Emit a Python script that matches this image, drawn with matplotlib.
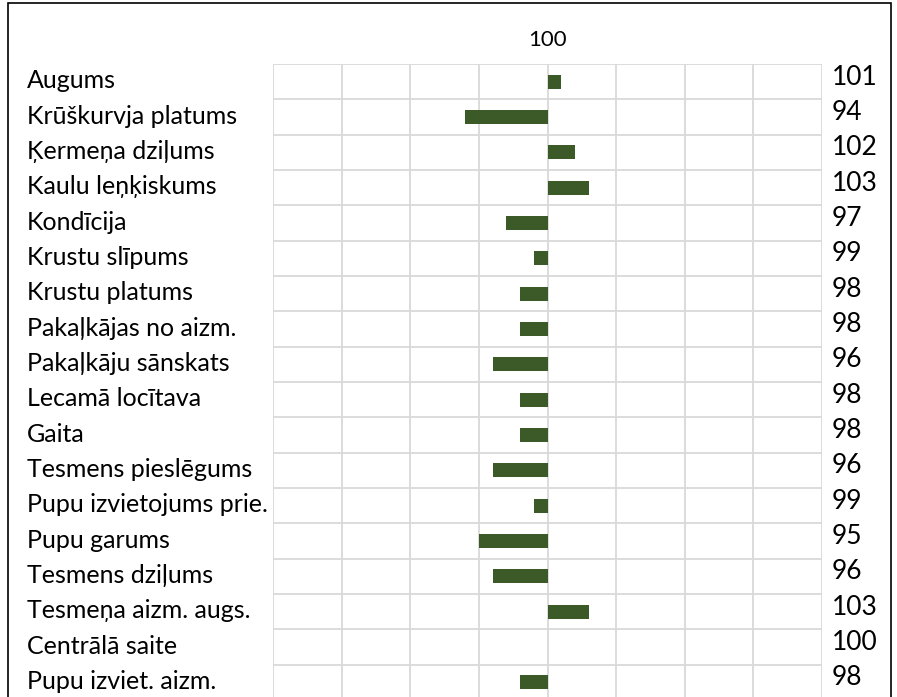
import numpy as np
import matplotlib.pyplot as plt
import matplotlib.transforms as mtransforms
from matplotlib.patches import Rectangle

# Dati
labels = ['Augums', 'Krūškurvja platums', 'Ķermeņa dziļums', 'Kaulu leņķiskums',
          'Kondīcija', 'Krustu slīpums', 'Krustu platums', 'Pakaļkājas no aizm.',
          'Pakaļkāju sānskats', 'Lecamā locītava', 'Gaita', 'Tesmens pieslēgums',
          'Pupu izvietojums prie.', 'Pupu garums', 'Tesmens dziļums',
          'Tesmeņa aizm. augs.', 'Centrālā saite', 'Pupu izviet. aizm.']
values = [101, 94, 102, 103, 97, 99, 98, 98, 96, 98, 98, 96, 99, 95, 96, 103, 100, 98]
base = 100

plt.rcParams['font.family'] = ['Lato', 'DejaVu Sans']
W, H = 897, 697
fig = plt.figure(figsize=(W / 100, H / 100), dpi=100)

ax = fig.add_axes([273 / W, 1 - 700 / H, (822 - 273) / W, 636 / H])
y = np.arange(len(labels))
v = np.array(values)
ax.barh(y, v - base, left=base, height=0.4, color='#3B5A27',
        linewidth=0, zorder=3)

ax.set_xlim(80, 120)
ax.set_ylim(len(labels) - 0.5, -0.5)
ax.set_xticks(np.arange(80, 121, 5))
ax.set_xticklabels([])
ax.tick_params(axis='x', length=0)
ax.set_yticks(y, minor=False)
ax.set_yticklabels(labels, fontsize=18, ha='left')
ax.tick_params(axis='y', which='major', length=0, pad=177)
ax.set_yticks(np.arange(-0.5, len(labels), 1), minor=True)
ax.tick_params(axis='y', which='minor', length=0)
ax.grid(True, axis='x', which='major', color='#D9D9D9', linewidth=1.3, zorder=0)
ax.grid(True, axis='y', which='minor', color='#D9D9D9', linewidth=1.3, zorder=0)
for s in ax.spines.values():
    s.set_visible(False)
up_l = mtransforms.ScaledTranslation(0, 3 / 100, fig.dpi_scale_trans)
for t in ax.get_yticklabels():
    t.set_transform(t.get_transform() + up_l)

# labas puses vērtības
ax2 = ax.twinx()
ax2.set_ylim(ax.get_ylim())
ax2.set_yticks(y)
ax2.set_yticklabels([str(x) for x in values], fontsize=19)
ax2.tick_params(axis='y', length=0, pad=7)
for s in ax2.spines.values():
    s.set_visible(False)
up_r = mtransforms.ScaledTranslation(0, 7 / 100, fig.dpi_scale_trans)
for t in ax2.get_yticklabels():
    t.set_transform(t.get_transform() + up_r)

# augšējā ass ar 100
ax3 = ax.twiny()
ax3.set_xlim(ax.get_xlim())
ax3.set_xticks([base])
ax3.set_xticklabels([str(base)], fontsize=16)
ax3.tick_params(axis='x', length=0, pad=10)
for s in ax3.spines.values():
    s.set_visible(False)

# rāmis
fig.patches.append(Rectangle((8 / W, -0.1), (891 - 8) / W, 1.1 - 2.5 / H,
                             transform=fig.transFigure, fill=False,
                             edgecolor='black', linewidth=1.2))

fig.savefig('out.png', dpi=100)
